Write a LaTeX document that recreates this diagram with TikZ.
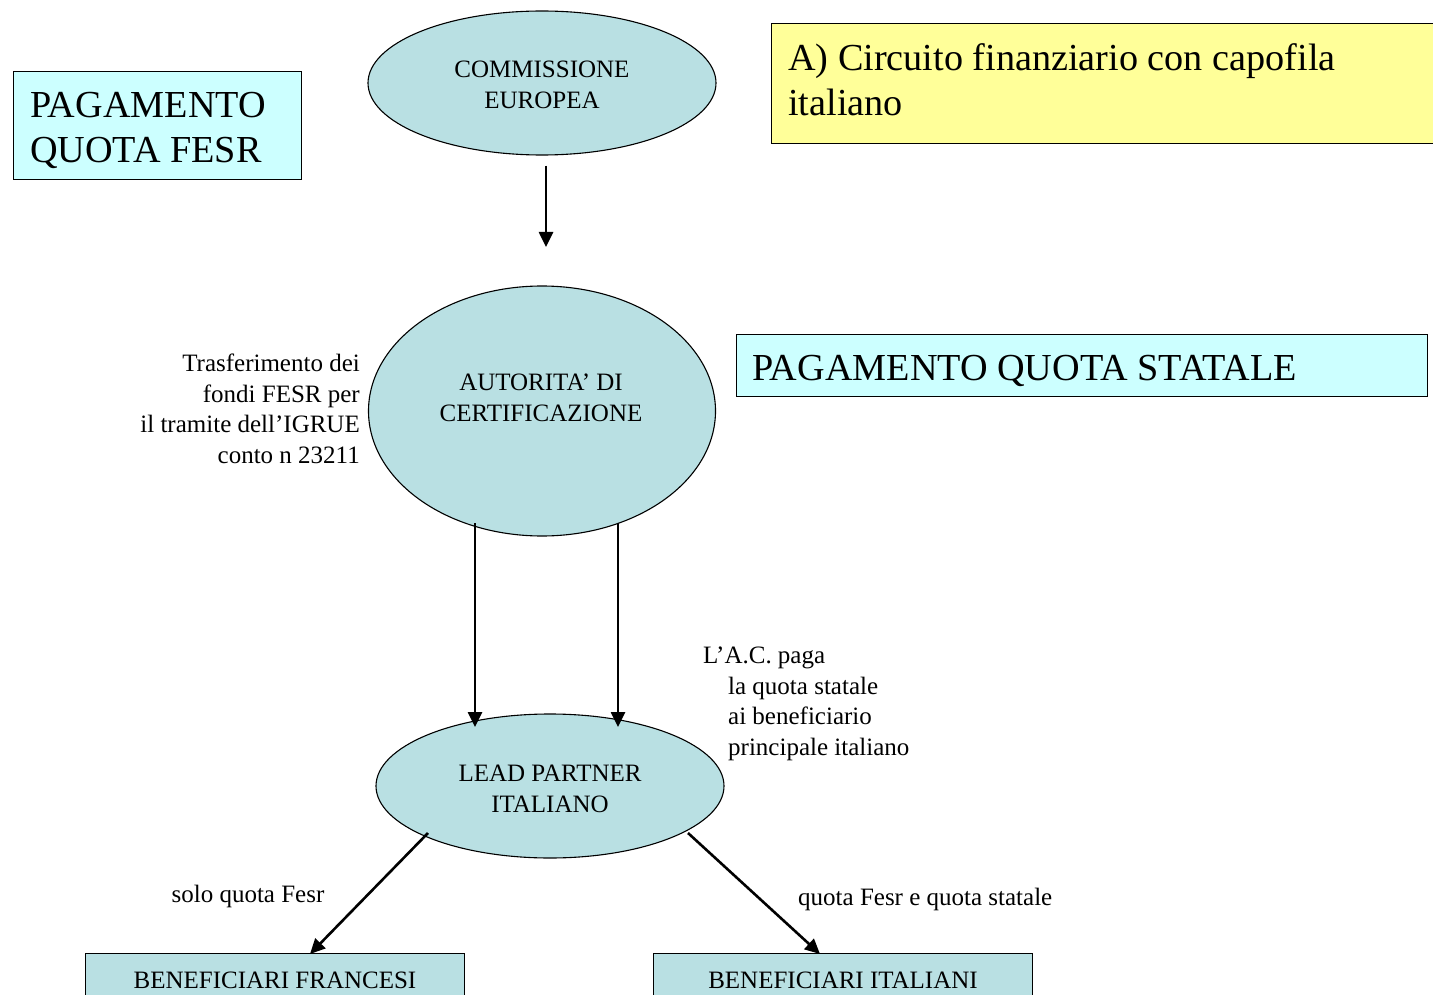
\documentclass[tikz,border=0pt]{standalone}
\usepackage{fontspec}
\setmainfont{Liberation Serif}
\usetikzlibrary{arrows.meta,calc,shapes.geometric}
\definecolor{ellfill}{HTML}{B9E0E3}
\definecolor{cyanbox}{HTML}{CCFFFF}
\definecolor{yelbox}{HTML}{FFFF99}
\tikzset{
  ell/.style={ellipse,draw=black,line width=1.1pt,fill=ellfill,inner sep=0pt,align=center,font=\fontsize{25}{30.5}\selectfont},
  bigbox/.style={draw=black,line width=1.1pt,fill=cyanbox,anchor=north west,inner sep=0pt},
  bigtxt/.style={font=\fontsize{38.2}{45.5}\selectfont,align=left,anchor=base west,inner sep=0pt},
  smalltxt/.style={font=\fontsize{25}{30.5}\selectfont,inner sep=0pt},
  arr/.style={line width=2.6pt,-{Triangle[length=15pt,width=14pt]}},
  benbox/.style={draw=black,line width=1.1pt,fill=ellfill,anchor=north west,inner sep=0pt}
}
\begin{document}
\begin{tikzpicture}[x=1pt,y=-1pt]
\useasboundingbox (0,0) rectangle (1433,995);
% left cyan box
\node[bigbox,minimum width=288pt,minimum height=108pt] (fesrbox) at (13,71) {};
\node[bigtxt] (fesrtxt) at (30,163) {PAGAMENTO\\QUOTA FESR};
% yellow box
\node[draw=black,line width=1.1pt,fill=yelbox,anchor=north west,inner sep=0pt,minimum width=700pt,minimum height=120pt] (ybox) at (771,23) {};
\node[bigtxt] (ytxt) at (788,116) {A) Circuito finanziario con capofila\\italiano};
% statale box
\node[bigbox,minimum width=691pt,minimum height=62pt] (statbox) at (736,334) {};
\node[bigtxt] (stattxt) at (752,380) {PAGAMENTO QUOTA STATALE};
% ellipses
\node[ell,minimum width=348pt,minimum height=144pt] (ce) at (542,83) {};
\node[font=\fontsize{25}{30.5}\selectfont,align=center,inner sep=0pt] (cetxt) at (542,85) {COMMISSIONE\\EUROPEA};
\node[ell,minimum width=347pt,minimum height=250pt] (ac) at (542,411) {};
\node[font=\fontsize{25}{30.5}\selectfont,align=center,inner sep=0pt] (actxt) at (541,398) {AUTORITA’ DI\\CERTIFICAZIONE};
\node[ell,minimum width=348pt,minimum height=144pt] (lp) at (550,786) {};
\node[font=\fontsize{25}{30.5}\selectfont,align=center,inner sep=0pt] (lptxt) at (550,789) {LEAD PARTNER\\ITALIANO};
% beneficiari
\node[benbox,minimum width=379pt,minimum height=70pt] (bf) at (85,953) {};
\node[smalltxt] (bftxt) at (275,980) {BENEFICIARI FRANCESI};
\node[benbox,minimum width=379pt,minimum height=70pt] (bi) at (653,953) {};
\node[smalltxt] (bitxt) at (843,980) {BENEFICIARI ITALIANI};
% labels
\node[smalltxt,align=right,anchor=north east] (lbl1) at (360,354) {Trasferimento dei\\fondi FESR per\\il tramite dell’IGRUE\\conto n 23211};
\node[smalltxt,align=left,anchor=north west] (lbl2) at (703,647) {L’A.C. paga\\\hspace*{25pt}la quota statale\\\hspace*{25pt}ai beneficiario\\\hspace*{25pt}principale italiano};
\node[smalltxt] (lbl3) at (248,896) {solo quota Fesr};
\node[smalltxt,anchor=west] (lbl4) at (798,899) {quota Fesr e quota statale};
% connectors
\coordinate (c1) at ($(ce.south)+(4,10)$);
\coordinate (c2) at (546,247);
\draw[arr] (c1) -- (c2);
\coordinate (a1) at (475,523);
\coordinate (a2) at (475,727);
\coordinate (b1) at (618,523);
\coordinate (b2) at (618,727);
\draw[arr] (a1) -- (a2);
\draw[arr] (b1) -- (b2);
\coordinate (d1) at (428,833);
\coordinate (d2) at (310,954);
\coordinate (e1) at (688,833);
\coordinate (e2) at (820,954);
\draw[arr] (d1) -- (d2);
\draw[arr] (e1) -- (e2);
\end{tikzpicture}
\end{document}
